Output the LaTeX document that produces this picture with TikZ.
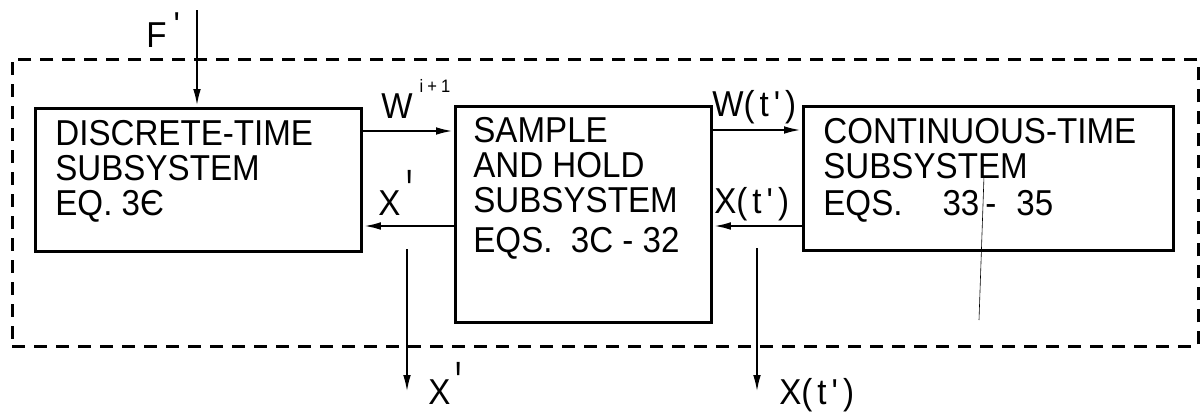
\documentclass[tikz,border=0pt]{standalone}
\usepackage{fontspec}
\newfontfamily\plot{Liberation Sans}[FakeStretch=0.92]
\usetikzlibrary{arrows.meta}
\newcommand\tk[3]{\hspace{#1}\raisebox{#2}{\scalebox{1}[#3]{'}}}
\newcommand\gp{\hspace{2.5pt}}
\begin{document}
\begin{tikzpicture}[x=0.5pt,y=-0.5pt,
  box/.style={draw, line width=1.4pt, inner sep=0pt, anchor=north west},
  frame/.style={draw, line width=1.4pt, dash pattern=on 6.5pt off 4.5pt, inner sep=0pt, anchor=north west},
  arr/.style={line width=1.3pt, -{Latex[length=9pt,width=3.8pt]}},
  txt/.style={font=\plot\fontsize{18}{17.5}\selectfont, anchor=base west, inner sep=0pt, align=left},
  lab/.style={font=\plot\fontsize{18}{18}\selectfont, anchor=base west, inner sep=0pt}]
\useasboundingbox (0,0) rectangle (1201,413);
% frame and boxes
\node[frame, minimum width=593pt, minimum height=143.5pt] (sys) at (11,58) {};
\node[box, minimum width=163pt, minimum height=71.5pt] (dts) at (34,107) {};
\node[box, minimum width=128pt, minimum height=108pt] (sh) at (454,105) {};
\node[box, minimum width=185pt, minimum height=72pt] (cts) at (802,105) {};
% box texts (anchored at the baseline of their last line)
\node[txt] (dtst) at (55,215) {DISCRETE-TIME\\SUBSYSTEM\\EQ.\ 3Є};
\node[txt] (sht) at (473,252) {SAMPLE\\AND HOLD\\SUBSYSTEM\\[2.5pt]EQS.\ \ 3C\ -\ 32};
\node[txt] (ctst) at (823,215) {CONTINUOUS-TIME\\SUBSYSTEM\\[1pt]EQS.\hspace{20pt}33\hspace{3pt}-\hspace{10pt}35};
% free ends
\coordinate (fin) at (197,10);
\coordinate (xo1) at (407,249);
\coordinate (xo2) at (407,393);
\coordinate (xt1) at (757,248);
\coordinate (xt2) at (757,393);
\coordinate (wa) at (0,131);
\coordinate (xa) at (0,226);
\coordinate (wb) at (0,130);
% connectors
\draw[arr] (fin) -- (fin |- dts.north);
\draw[arr] (dts.east |- wa) -- (sh.west |- wa);
\draw[arr] (sh.west |- xa) -- (dts.east |- xa);
\draw[arr] (sh.east |- wb) -- (cts.west |- wb);
\draw[arr] (cts.west |- xa) -- (sh.east |- xa);
\draw[arr] (xo1) -- (xo2);
\draw[arr] (xt1) -- (xt2);
% labels
\node[lab] (lf) at (146,47) {F\tk{3.5pt}{5pt}{1}};
\node[lab] (lw) at (381,118) {W\hspace{3.5pt}\raisebox{13pt}{\fontsize{9}{9}\selectfont i\hspace{2pt}+\hspace{2pt}1}};
\node[lab] (lx) at (378,215) {X\tk{3pt}{1.5pt}{1.7}};
\node[lab] (lwt) at (712,116) {W(\gp t\gp'\gp)};
\node[lab] (lxt) at (714,213) {X(\gp t\gp'\gp)};
\node[lab] (lxo) at (428,404) {X\tk{2.5pt}{0pt}{1.7}};
\node[lab] (lxto) at (779,404) {X(\gp t\gp'\gp)};
% stray thin line
\draw[line width=0.3pt] (984,176) -- (979,320);
\end{tikzpicture}
\end{document}
